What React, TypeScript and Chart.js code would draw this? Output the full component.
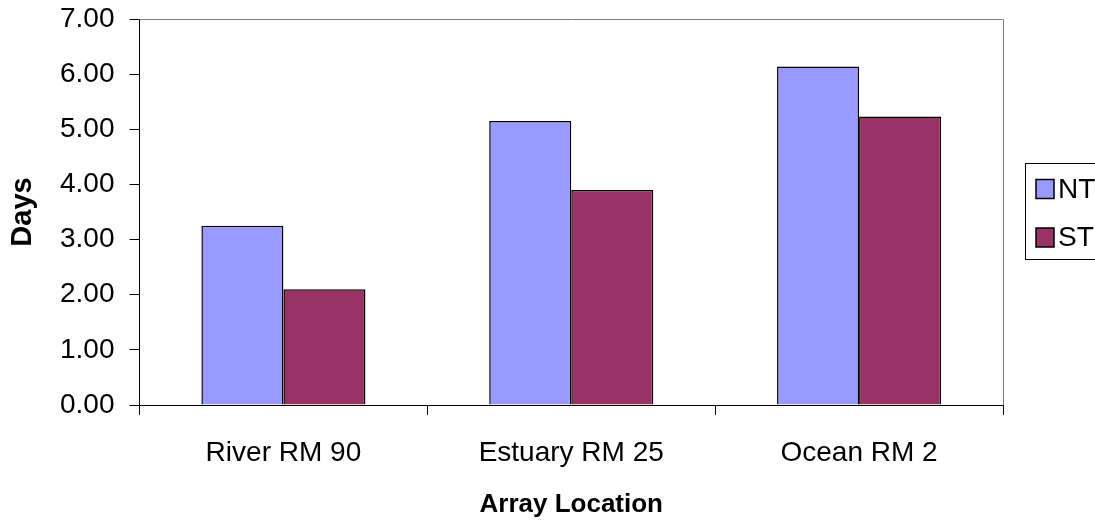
import React, { useEffect, useRef } from "react";
import { Chart, registerables } from "chart.js";

Chart.register(...registerables);

const categories = ["River RM 90", "Estuary RM 25", "Ocean RM 2"];
const ntValues = [3.25, 5.15, 6.14];
const stValues = [2.1, 3.9, 5.23];
const seriesLabels = ["NT", "ST"];
const yTicks = [0, 1, 2, 3, 4, 5, 6, 7];

const FONT = "'Liberation Sans', Arial, sans-serif";

// Grey frame on the top and right sides of the plot area
const frame = {
  id: "frame",
  afterDraw(chart: any) {
    const { ctx, chartArea } = chart;
    ctx.save();
    ctx.strokeStyle = "#808080";
    ctx.lineWidth = 1;
    ctx.beginPath();
    ctx.moveTo(chartArea.left, Math.round(chartArea.top) + 0.5);
    ctx.lineTo(Math.round(chartArea.right) + 0.5, Math.round(chartArea.top) + 0.5);
    ctx.lineTo(Math.round(chartArea.right) + 0.5, chartArea.bottom);
    ctx.stroke();
    ctx.restore();
  },
};

// Boxed legend to the right of the plot
const boxLegend = {
  id: "boxLegend",
  afterDraw(chart: any) {
    const { ctx } = chart;
    const x0 = 1025.5;
    const y0 = 163.5;
    const h = 96;
    ctx.save();
    ctx.fillStyle = "#ffffff";
    ctx.fillRect(x0, y0, 120, h);
    ctx.strokeStyle = "#000000";
    ctx.lineWidth = 1;
    ctx.strokeRect(x0, y0, 120, h);
    ctx.font = `28px ${FONT}`;
    ctx.textBaseline = "middle";
    chart.data.datasets.forEach((ds: any, i: number) => {
      const cy = 189 + i * 48.5;
      ctx.fillStyle = ds.backgroundColor;
      ctx.fillRect(1036, cy - 9.5, 18, 19);
      ctx.strokeStyle = "#000000";
      ctx.lineWidth = 1.5;
      ctx.strokeRect(1036, cy - 9.5, 18, 19);
      ctx.fillStyle = "#000000";
      ctx.fillText(ds.label, 1058, cy + 1);
    });
    ctx.restore();
  },
};

export default function App() {
  const ref = useRef<HTMLCanvasElement>(null);

  useEffect(() => {
    if (!ref.current) return;
    const chart = new Chart(ref.current, {
      type: "bar",
      data: {
        labels: categories,
        datasets: [
          {
            label: seriesLabels[0],
            data: ntValues,
            backgroundColor: "#9999FF",
            borderColor: "#000000",
            borderWidth: 1.5,
          },
          {
            label: seriesLabels[1],
            data: stValues,
            backgroundColor: "#993366",
            borderColor: "#000000",
            borderWidth: 1.5,
          },
        ],
      },
      options: {
        responsive: false,
        animation: false,
        datasets: {
          bar: { categoryPercentage: 0.57, barPercentage: 1.0 },
        },
        layout: { padding: { top: 19, right: 92, left: 0, bottom: 0 } },
        plugins: {
          legend: { display: false },
          tooltip: { enabled: false },
        },
        scales: {
          x: {
            grid: {
              drawOnChartArea: false,
              drawTicks: true,
              tickLength: 10,
              color: "#000000",
              offset: true,
            },
            border: { color: "#000000", width: 1 },
            ticks: {
              color: "#000000",
              font: { family: FONT, size: 28 },
              padding: 21,
            },
            title: {
              display: true,
              text: "Array Location",
              color: "#000000",
              font: { family: FONT, size: 26, weight: "bold" },
              padding: { top: 0, bottom: 6 },
            },
            afterFit(scale: any) {
              scale.height = 121;
              scale.paddingLeft = 0;
              scale.paddingRight = 0;
            },
          },
          y: {
            min: 0,
            max: 7,
            afterBuildTicks(scale: any) {
              scale.ticks = yTicks.map((v) => ({ value: v }));
            },
            grid: {
              drawOnChartArea: false,
              drawTicks: true,
              tickLength: 10,
              color: "#000000",
            },
            border: { color: "#000000", width: 1 },
            ticks: {
              color: "#000000",
              font: { family: FONT, size: 28 },
              padding: 15,
              callback: (v: any) => Number(v).toFixed(2),
            },
            title: {
              display: true,
              text: "Days",
              color: "#000000",
              font: { family: FONT, size: 29, weight: "bold" },
              padding: { top: 6, bottom: 0 },
            },
            afterFit(scale: any) {
              scale.width = 139.5;
              scale.paddingTop = 0;
              scale.paddingBottom = 0;
            },
          },
        },
      },
      plugins: [frame, boxLegend],
    });
    return () => chart.destroy();
  }, []);

  return (
    <div style={{ position: "absolute", left: 0, top: 0, width: 1095, height: 526, background: "#ffffff" }}>
      <canvas ref={ref} width={1095} height={526} style={{ display: "block" }} />
    </div>
  );
}
